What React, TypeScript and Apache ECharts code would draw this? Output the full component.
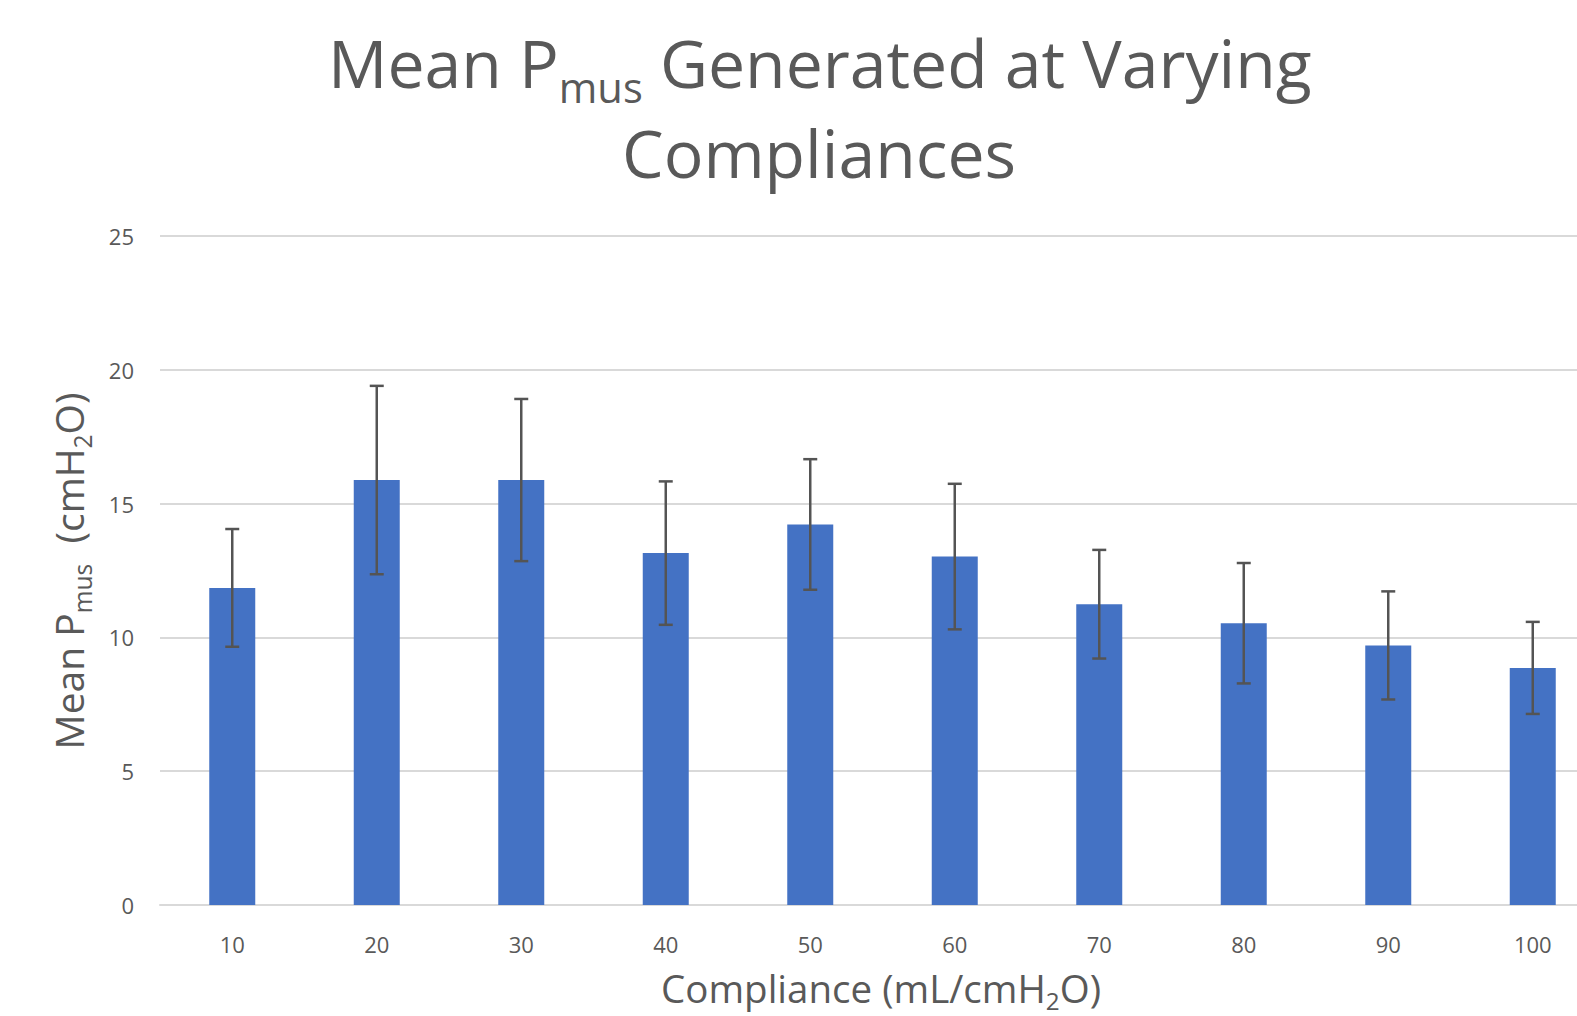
import React, { useEffect, useRef } from 'react';
import * as echarts from 'echarts';

// ---------- data ----------
const categories = ['10', '20', '30', '40', '50', '60', '70', '80', '90', '100'];
const meanPmus = [11.85, 15.88, 15.88, 13.15, 14.22, 13.02, 11.24, 10.53, 9.7, 8.86];
const sdPmus = [2.2, 3.52, 3.03, 2.68, 2.44, 2.72, 2.03, 2.25, 2.02, 1.72];
const yMin = 0;
const yMax = 25;
const yInterval = 5;

const titleLine1 = [{ text: 'Mean P' }, { text: 'mus', sub: true }, { text: ' Generated at Varying' }];
const titleLine2 = [{ text: 'Compliances' }];
const yTitle = [{ text: 'Mean P' }, { text: 'mus', sub: true }, { text: '  (cmH' }, { text: '2', sub: true }, { text: 'O)' }];
const xTitle = [{ text: 'Compliance (mL/cmH' }, { text: '2', sub: true }, { text: 'O)' }];

// ---------- styles ----------
const FONT = '"Open Sans", sans-serif';
const TEXT_COLOR = '#595959';
const BAR_COLOR = '#4472C4';
const ERR_COLOR = '#545454';
const GRID_COLOR = '#d9d9d9';
const SUB_RATIO = 0.63;
const CENTRAL = 0.36; // svg 'central' baseline above alphabetic baseline, in em

type Piece = { text: string; sub?: boolean };

function makeMeasure() {
  const c = document.createElement('canvas');
  const ctx = c.getContext('2d') as CanvasRenderingContext2D;
  return (t: string, size: number) => {
    ctx.font = `${size}px "Open Sans"`;
    return ctx.measureText(t).width;
  };
}

function sizeFor(pieces: Piece[], target: number, measure: (t: string, s: number) => number) {
  const w = pieces.reduce((s, p) => s + measure(p.text, p.sub ? 100 * SUB_RATIO : 100), 0);
  return (100 * target) / w;
}

function pieceElems(
  pieces: Piece[],
  m: number,
  left: number,
  baseline: number,
  measure: (t: string, s: number) => number,
  subShift: number
) {
  let x = left;
  const out: any[] = [];
  for (const p of pieces) {
    const size = p.sub ? m * SUB_RATIO : m;
    const bl = p.sub ? baseline + subShift * m : baseline;
    out.push({
      type: 'text',
      x,
      y: bl - CENTRAL * size,
      silent: true,
      style: {
        text: p.text,
        fontSize: size,
        fontFamily: FONT,
        fill: TEXT_COLOR,
        align: 'left',
        verticalAlign: 'middle',
        textAlign: 'left',
        textVerticalAlign: 'middle',
      },
    });
    x += measure(p.text, size);
  }
  return { elems: out, width: x - left };
}

function widthOf(pieces: Piece[], m: number, measure: (t: string, s: number) => number) {
  return pieces.reduce((s, p) => s + measure(p.text, p.sub ? m * SUB_RATIO : m), 0);
}

export default function App() {
  const ref = useRef<HTMLDivElement>(null);

  useEffect(() => {
    if (!ref.current) return;
    const chart = echarts.init(ref.current, undefined, { renderer: 'svg' });
    const measure = makeMeasure();

    // Title
    const tm = sizeFor(titleLine1, 984, measure);
    const t1 = pieceElems(titleLine1, tm, 328, 86, measure, 0.23);
    const w2 = widthOf(titleLine2, tm, measure);
    const t2 = pieceElems(titleLine2, tm, 819 - w2 / 2, 176, measure, 0.23);

    // Y axis title (rotated)
    const ym = sizeFor(yTitle, 357, measure);
    const yw = widthOf(yTitle, ym, measure);
    const yt = pieceElems(yTitle, ym, -yw / 2, 0, measure, 0.22);

    // X axis title
    const xm = sizeFor(xTitle, 440, measure);
    const xw = widthOf(xTitle, xm, measure);
    const xt = pieceElems(xTitle, xm, 881 - xw / 2, 1002, measure, 0.18);

    const errData = categories.map((_, i) => [i, meanPmus[i] - sdPmus[i], meanPmus[i] + sdPmus[i]]);

    chart.setOption({
      animation: false,
      backgroundColor: '#ffffff',
      grid: { left: 160, top: 236, width: 1445, height: 669, containLabel: false },
      xAxis: {
        type: 'category',
        data: categories,
        axisLine: { show: true, lineStyle: { color: GRID_COLOR, width: 2 } },
        axisTick: { show: false },
        axisLabel: { color: TEXT_COLOR, fontSize: 22, fontFamily: FONT, margin: 28 },
        splitLine: { show: false },
      },
      yAxis: {
        type: 'value',
        min: yMin,
        max: yMax,
        interval: yInterval,
        axisLine: { show: false },
        axisTick: { show: false },
        axisLabel: { color: TEXT_COLOR, fontSize: 22, fontFamily: FONT, margin: 26 },
        splitLine: { show: true, lineStyle: { color: GRID_COLOR, width: 2 } },
      },
      series: [
        {
          type: 'bar',
          data: meanPmus,
          barWidth: 46,
          itemStyle: { color: BAR_COLOR },
          z: 2,
        },
        {
          type: 'custom',
          data: errData,
          encode: { x: 0, y: [1, 2] },
          z: 5,
          renderItem: (params: any, api: any) => {
            const idx = api.value(0);
            const lo = api.coord([idx, api.value(1)]);
            const hi = api.coord([idx, api.value(2)]);
            const half = 7;
            const st = { stroke: ERR_COLOR, lineWidth: 2.5 };
            return {
              type: 'group',
              children: [
                { type: 'line', shape: { x1: hi[0], y1: hi[1], x2: lo[0], y2: lo[1] }, style: st },
                { type: 'line', shape: { x1: hi[0] - half, y1: hi[1], x2: hi[0] + half, y2: hi[1] }, style: st },
                { type: 'line', shape: { x1: lo[0] - half, y1: lo[1], x2: lo[0] + half, y2: lo[1] }, style: st },
              ],
            };
          },
        },
      ],
      graphic: [
        ...t1.elems,
        ...t2.elems,
        ...xt.elems,
        { type: 'group', x: 83, y: 571, rotation: Math.PI / 2, children: yt.elems },
      ],
    });

    return () => chart.dispose();
  }, []);

  return (
    <div
      style={{
        position: 'fixed',
        left: 0,
        top: 0,
        width: 1577,
        height: 1016,
        overflow: 'hidden',
        background: '#ffffff',
      }}
    >
      <div ref={ref} style={{ width: 1620, height: 1016 }} />
    </div>
  );
}
